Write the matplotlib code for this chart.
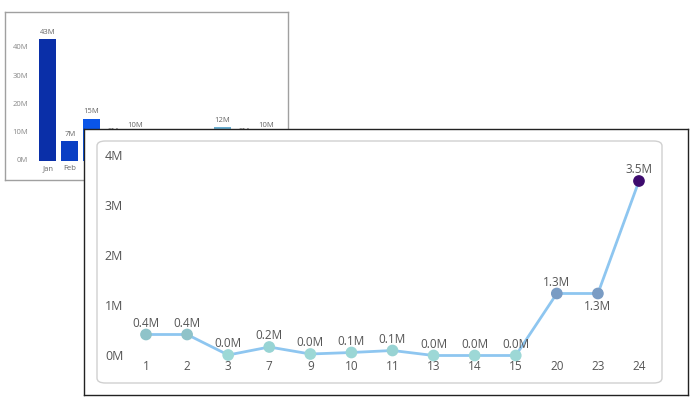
import matplotlib
matplotlib.use("Agg")
import matplotlib.pyplot as plt
from matplotlib.patches import FancyBboxPatch

plt.rcParams['font.family'] = ['Open Sans', 'DejaVu Sans']

months = ["Jan", "Feb", "Mar", "Apr", "May", "Jun", "Jul", "Aug", "Sep", "Oct", "Nov"]
month_vals = [43, 7, 15, 8, 10, 6, 5, 7, 12, 8, 10]
bar_colors = ["#0a2fa8", "#0a3fc4", "#0a55e8", "#1a66e0", "#2f7ad8", "#3a86d0",
              "#4a92cc", "#5aa0c8", "#6aaed0", "#6ab0d0", "#70b8d0"]
bar_yticks = [0, 10, 20, 30, 40]

days = ["1", "2", "3", "7", "9", "10", "11", "13", "14", "15", "20", "23", "24"]
day_vals = [0.43, 0.43, 0.02, 0.18, 0.04, 0.07, 0.11, 0.01, 0.01, 0.01, 1.25, 1.25, 3.5]
day_labels = ["0.4M", "0.4M", "0.0M", "0.2M", "0.0M", "0.1M", "0.1M", "0.0M", "0.0M", "0.0M", "1.3M", "1.3M", "3.5M"]
pt_colors = ["#8fc3c9", "#8fc3c9", "#9dd8d6", "#98d4d4", "#9dd8d6", "#9ad6d5", "#98d3d3",
             "#9dd8d6", "#9dd8d6", "#9dd8d6", "#7a9cc4", "#7a9cc4", "#3d0b6e"]
line_yticks = [0, 1, 2, 3, 4]

W, H = 700, 411
fig = plt.figure(figsize=(7, 4.11), dpi=100)
fig.patch.set_facecolor("white")

def box(x0, y0, x1, y1):
    return [x0 / W, 1 - y1 / H, (x1 - x0) / W, (y1 - y0) / H]

# background panel (as an axes so overlay axes draw on top)
ax0 = fig.add_axes(box(5, 12, 288, 180))
ax0.set_xticks([]); ax0.set_yticks([])
for s in ax0.spines.values():
    s.set_color("#a0a0a0"); s.set_linewidth(1)

ax1 = fig.add_axes(box(37, 20, 287, 175))
ax1.set_facecolor("none")
ax1.bar(range(len(months)), month_vals, width=0.78, color=bar_colors)
ax1.set_xlim(-0.5, 10.5 + 0.45)
ax1.set_ylim(-4.96, 49.9)
ax1.axis("off")
for i, (m, v) in enumerate(zip(months, month_vals)):
    ax1.text(i, v + 1.2, f"{v}M", ha="center", va="bottom", fontsize=5.5, color="#666666")
    ax1.text(i, -2.6, m, ha="center", va="center", fontsize=5.5, color="#666666")
for t in bar_yticks:
    ax1.text(-0.9, t, f"{t}M", ha="right", va="center", fontsize=5.5, color="#888888")

# overlay panel
ax2 = fig.add_axes(box(84, 129, 688, 395))
ax2.set_facecolor("white")
ax2.set_xticks([]); ax2.set_yticks([])
for s in ax2.spines.values():
    s.set_color("#222222"); s.set_linewidth(1)
ib = box(97, 141, 662, 383)
ax2.add_patch(FancyBboxPatch((ib[0], ib[1]), ib[2], ib[3], boxstyle="round,pad=0,rounding_size=0.012",
                             transform=fig.transFigure, fc="white", ec="#d0d0d0", lw=1, zorder=1))

ax3 = fig.add_axes(box(100, 150, 655, 375))
ax3.set_facecolor("none")
x = list(range(len(days)))
ax3.plot(x, day_vals, color="#8ec6f0", lw=2, zorder=2)
ax3.scatter(x, day_vals, s=55, c=pt_colors, zorder=3)
ax3.set_xlim(-1.12, 12.39)
ax3.set_ylim(-0.38, 4.12)
ax3.axis("off")
for i, (v, l) in enumerate(zip(day_vals, day_labels)):
    if i == 11:
        ax3.text(i, v - 0.13, l, ha="center", va="top", fontsize=8.5, color="#555555")
    else:
        ax3.text(i, v + 0.1, l, ha="center", va="bottom", fontsize=8.5, color="#555555")
    ax3.text(i, -0.2, days[i], ha="center", va="center", fontsize=8.5, color="#555555")
for t in line_yticks:
    ax3.text(-1.0, t, f"{t}M", ha="left", va="center", fontsize=9, color="#555555")

fig.savefig("out.png", dpi=100)
